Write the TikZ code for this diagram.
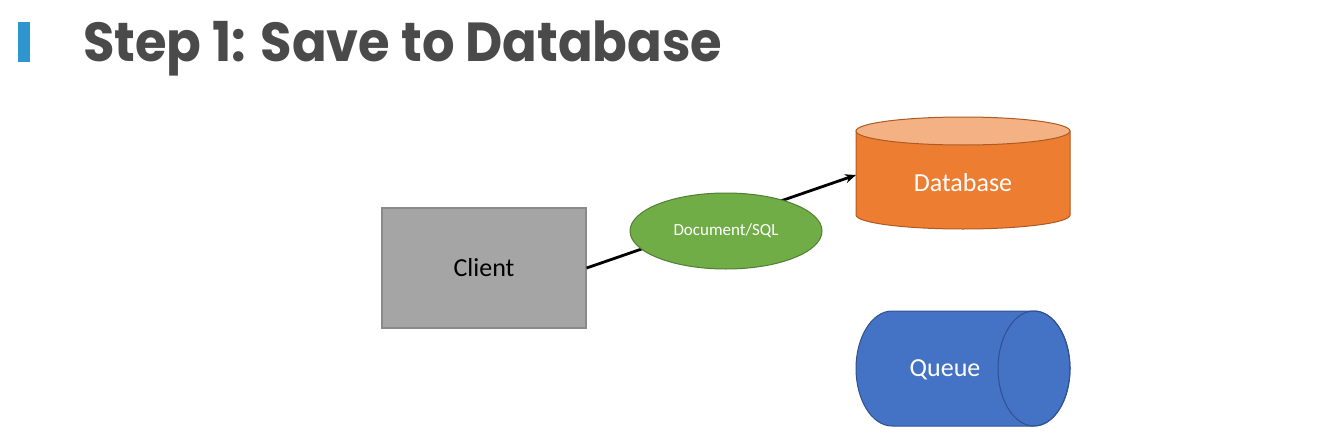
\documentclass[tikz,border=0pt]{standalone}
\usepackage{fontspec}
\setmainfont{Carlito}
\newfontfamily\titlefont{Poppins Bold}
\usetikzlibrary{shapes.geometric,arrows.meta}
\definecolor{titlegray}{HTML}{4A4A4A}
\definecolor{barblue}{HTML}{2E95CF}
\definecolor{clientfill}{HTML}{A5A5A5}
\definecolor{clientline}{HTML}{8A8A8A}
\definecolor{greenfill}{HTML}{70AD47}
\definecolor{greenline}{HTML}{507E32}
\definecolor{orangefill}{HTML}{ED7D31}
\definecolor{orangetop}{HTML}{F4B183}
\definecolor{orangeline}{HTML}{AE5A21}
\definecolor{bluefill}{HTML}{4472C4}
\definecolor{blueline}{HTML}{2F528F}
\tikzset{
  clientbox/.style={draw=clientline, line width=1.2pt, fill=clientfill, minimum width=204pt, minimum height=120pt, inner sep=0pt, font=\fontsize{26}{30}\selectfont, text=black},
  msgshape/.style={ellipse, draw=greenline, line width=1pt, fill=greenfill, minimum width=192pt, minimum height=76pt, inner sep=0pt, font=\fontsize{17}{20}\selectfont, text=white},
  arrowline/.style={line width=2.8pt, -{Stealth[length=11pt,width=9pt]}},
  shapelabel/.style={font=\fontsize{26}{30}\selectfont, text=white, inner sep=0pt},
  titletext/.style={font=\titlefont\fontsize{55}{60}\selectfont, text=titlegray, anchor=base west, inner sep=0pt},
}
\begin{document}
\begin{tikzpicture}[x=1pt,y=1pt]
\useasboundingbox[fill=white] (0,0) rectangle (1332,-436);
% title
\fill[barblue] (18,-22) rectangle (30,-62);
\node[titletext, xscale=0.93] (title) at (83,-62) {Step 1: Save to Database};
% client
\node[clientbox] (client) at (484,-268) {Client};
% database cylinder
\filldraw[fill=orangefill, draw=orangeline, line width=1pt] (856,-131) -- (856,-215) arc[start angle=180, end angle=360, x radius=107pt, y radius=14pt] -- (1070,-131) -- cycle;
\filldraw[fill=orangetop, draw=orangeline, line width=1pt] (963,-131) ellipse[x radius=107pt, y radius=14pt];
\node[shapelabel] (db) at (963,-183) {Database};
\coordinate (dbin) at (856,-175);
% queue cylinder
\filldraw[fill=bluefill, draw=blueline, line width=1pt] (1034,-311) -- (892,-311) arc[start angle=90, end angle=270, x radius=36pt, y radius=57.5pt] -- (1034,-426) arc[start angle=-90, end angle=90, x radius=36pt, y radius=57.5pt] -- cycle;
\draw[blueline, line width=1pt] (1034,-368.5) ellipse[x radius=36pt, y radius=57.5pt];
\node[shapelabel] (queue) at (945,-370) {Queue};
% connector
\draw[arrowline] (client.east) -- (dbin);
\node[msgshape] (msg) at (726,-231) {Document/SQL};
\end{tikzpicture}
\end{document}
